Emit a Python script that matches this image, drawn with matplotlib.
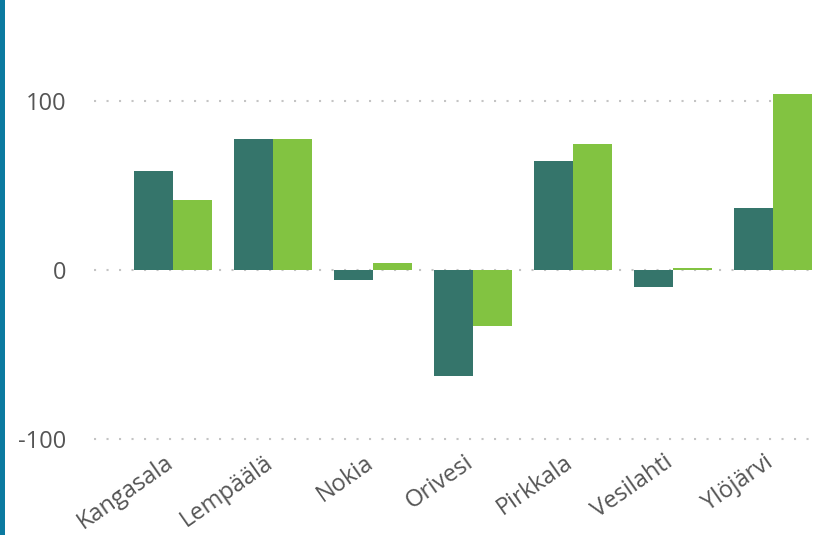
import matplotlib
matplotlib.use("Agg")
import matplotlib.pyplot as plt
from matplotlib.patches import Rectangle
import matplotlib.transforms as mtransforms
import numpy as np

categories = ["Kangasala", "Lempäälä", "Nokia", "Orivesi", "Pirkkala", "Vesilahti", "Ylöjärvi"]
series_dark = [58.5, 77.5, -6, -63, 64.5, -10, 36.5]
series_light = [41.5, 77.5, 4, -33, 74.5, 1, 104.5]
yticks = [-100, 0, 100]

plt.rcParams['font.family'] = ['Open Sans', 'DejaVu Sans']

W, H = 824, 535
fig = plt.figure(figsize=(W / 100, H / 100), dpi=100)
fig.patch.set_facecolor("white")
fig.patches.append(Rectangle((0, 0), 5 / W, 1, transform=fig.transFigure,
                             facecolor="#0b7aa0", edgecolor="none"))

ax = fig.add_axes([94 / W, (535 - 445) / H, (814 - 94) / W, 445 / H])
x = np.arange(len(categories))
bw = 0.39
ax.bar(x - bw / 2, series_dark, width=bw, color="#35756b", zorder=2)
ax.bar(x + bw / 2, series_light, width=bw, color="#82c341", zorder=2)

ax.set_xlim(-0.79, 6.41)
ax.set_ylim(-103.6, 160)
ax.set_yticks(yticks)
ax.set_yticklabels([str(v) for v in yticks], fontsize=17, color="#555555")
ax.yaxis.grid(True, linestyle=(0, (1, 5)), linewidth=1.5, color="#c4c4c4", zorder=1)
ax.set_xticks(x)
ax.set_xticklabels(categories, rotation=35, ha="right", rotation_mode="anchor",
                   fontsize=17, color="#555555")
ax.tick_params(axis="both", length=0)
ax.tick_params(axis="y", pad=20)
ax.tick_params(axis="x", pad=4)
for s in ax.spines.values():
    s.set_visible(False)
offset = mtransforms.ScaledTranslation(-9 / 100, 0, fig.dpi_scale_trans)
for lab in ax.get_xticklabels():
    lab.set_transform(lab.get_transform() + offset)

fig.savefig("out.png", dpi=100, facecolor="white")
